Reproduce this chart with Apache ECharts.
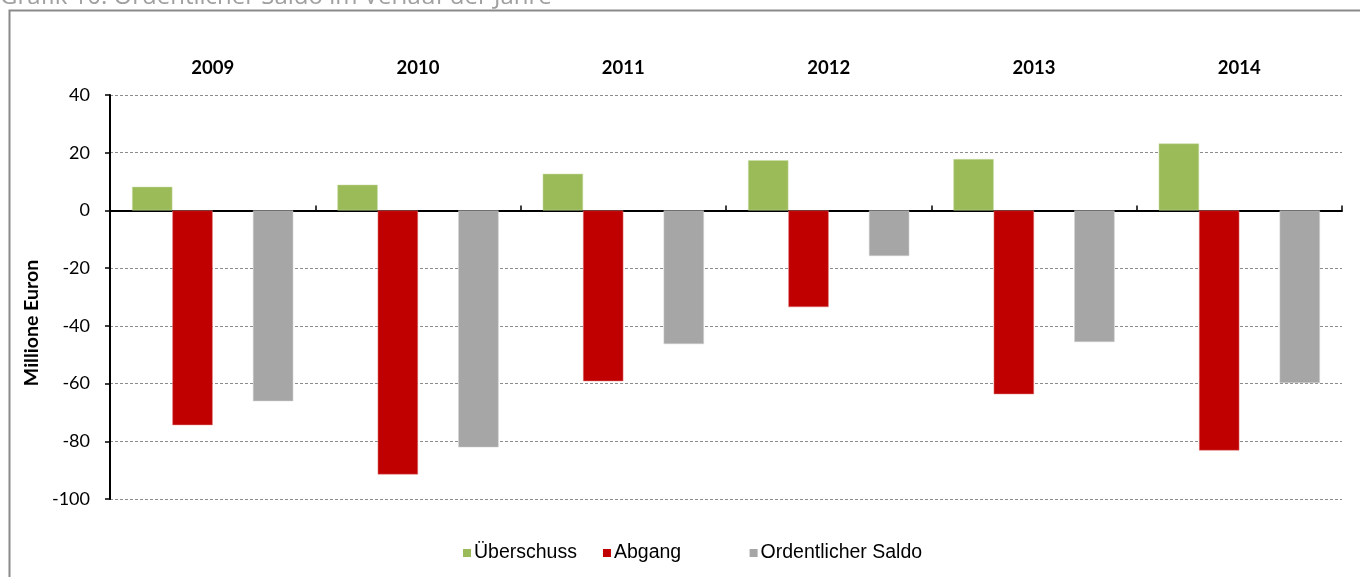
<!DOCTYPE html>
<html>
<head>
<meta charset="utf-8">
<script src="https://cdn.jsdelivr.net/npm/echarts@6/dist/echarts.min.js"></script>
<style>
html,body{margin:0;padding:0;background:#fff;}
#chart{width:1360px;height:577px;}
</style>
</head>
<body>
<div id="chart"></div>
<script>
const jahre = ['2009', '2010', '2011', '2012', '2013', '2014'];
const ueberschuss = [8.2, 8.9, 12.7, 17.4, 17.8, 23.2];
const abgang = [-74.4, -91.5, -59.2, -33.5, -63.7, -83.2];
const leer = [null, null, null, null, null, null];
const saldo = [-66.1, -82.1, -46.3, -15.8, -45.6, -59.8];
const yTicks = [-100, -80, -60, -40, -20, 0, 20, 40];
const yTitel = 'Millione Euron';

const chart = echarts.init(document.getElementById('chart'));
const barBase = { type: 'bar', xAxisIndex: 0, barGap: '0%', barCategoryGap: '21.5%' };
chart.setOption({
  animation: false,
  backgroundColor: '#fff',
  graphic: [
    { type: 'rect', shape: { x: 9.5, y: 10.5, width: 1400, height: 700 },
      style: { fill: 'none', stroke: '#8a8a8a', lineWidth: 2 }, z: -1 },
    { type: 'text', left: 0, top: -15,
      style: { text: 'Grafik 10: Ordentlicher Saldo im Verlauf der Jahre', fill: '#a0a0a0',
               font: '24px "Open Sans"' } },
    { type: 'text', x: 32, y: 323, rotation: Math.PI / 2,
      style: { text: yTitel, fill: '#000', font: 'bold 19.5px Lato',
               align: 'center', verticalAlign: 'middle' } }
  ],
  grid: { left: 110, right: 18, top: 95, bottom: 78, containLabel: false },
  legend: {
    bottom: 9, left: 458, itemWidth: 8, itemHeight: 8, itemGap: 26,
    icon: 'rect',
    itemStyle: { borderWidth: 0 },
    textStyle: { fontFamily: 'Liberation Sans', fontSize: 19.5, color: '#000', padding: [0,0,0,-2] },
    data: ['Überschuss', 'Abgang', ' ', 'Ordentlicher Saldo']
  },
  xAxis: [
    { type: 'category', data: jahre, position: 'bottom',
      axisLine: { onZero: true, lineStyle: { color: '#000', width: 2 } },
      axisTick: { show: true, inside: true, length: 5, lineStyle: { color: '#000', width: 1.5 } },
      axisLabel: { show: false }, splitLine: { show: false } },
    { type: 'category', data: jahre, position: 'top',
      axisLine: { show: false }, axisTick: { show: false },
      axisLabel: { margin: 17, fontFamily: 'Lato', fontWeight: 'bold', fontSize: 18.5, color: '#000' } }
  ],
  yAxis: {
    type: 'value', min: yTicks[0], max: yTicks[yTicks.length - 1], interval: 20,
    axisLine: { show: true, lineStyle: { color: '#000', width: 2 } },
    axisTick: { show: true, length: 5, lineStyle: { color: '#000', width: 1.5 } },
    axisLabel: { margin: 20, fontFamily: 'Lato', fontSize: 18, color: '#000' },
    splitLine: { lineStyle: { color: '#8c8c8c', type: [3, 2], width: 1 } }
  },
  series: [
    Object.assign({}, barBase, { name: 'Überschuss', data: ueberschuss,
      itemStyle: { color: '#9BBB59', borderColor: '#c9dca6', borderWidth: 0.5 } }),
    Object.assign({}, barBase, { name: 'Abgang', data: abgang,
      itemStyle: { color: '#C00000', borderColor: '#e08080', borderWidth: 0.5 } }),
    Object.assign({}, barBase, { name: ' ', data: leer,
      itemStyle: { color: 'rgba(0,0,0,0)' } }),
    Object.assign({}, barBase, { name: 'Ordentlicher Saldo', data: saldo,
      itemStyle: { color: '#A6A6A6', borderColor: '#d0d0d0', borderWidth: 0.5 } })
  ]
});
</script>
</body>
</html>
